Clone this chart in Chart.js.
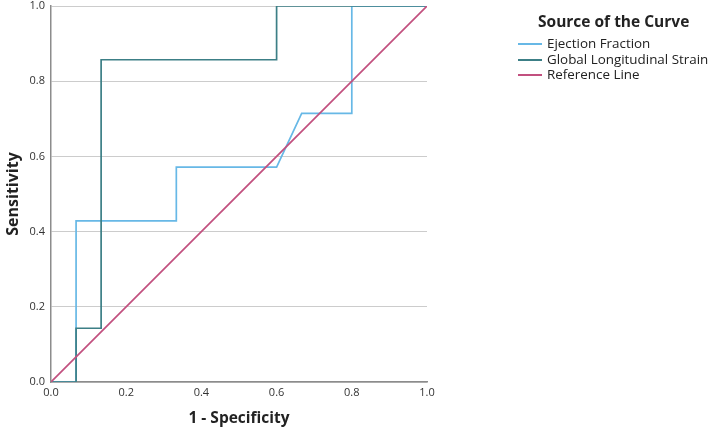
<html>
<head>
    <meta charset="utf-8"/>
    <script src="https://cdn.jsdelivr.net/npm/chart.js@4"></script>
    <style>
        body { margin: 0; background: #fff; font-family: "Open Sans", sans-serif; }
        .wrap { position: relative; width: 709px; height: 432px; }
        .legend { position: absolute; left: 518px; top: 10px; color: #222; }
        .legend .title { font-weight: bold; font-size: 15.5px; margin-left: 20px; margin-bottom: 4px; height: 22px; line-height: 22px; }
        .legend .item { font-size: 13.4px; height: 15.5px; line-height: 15.5px; white-space: nowrap; }
        .legend .swatch { display: inline-block; width: 24px; height: 2px; vertical-align: middle; margin-right: 5px; }
    </style>
</head>
<body>
<div class="wrap">
    <canvas id="roc" width="709" height="432"></canvas>
    <div class="legend" id="legend"></div>
</div>
<script>
    // ROC curves, x = 1 - specificity, y = sensitivity
    const efX = [0, 0.0667, 0.0667, 0.3333, 0.3333, 0.6, 0.6667, 0.8, 0.8, 1];
    const efY = [0, 0, 0.4286, 0.4286, 0.5714, 0.5714, 0.7143, 0.7143, 1, 1];
    const glsX = [0, 0.0667, 0.0667, 0.1333, 0.1333, 0.6, 0.6, 1];
    const glsY = [0, 0, 0.1429, 0.1429, 0.8571, 0.8571, 1, 1];
    const refX = [0, 1];
    const refY = [0, 1];
    const seriesNames = ["Ejection Fraction", "Global Longitudinal Strain", "Reference Line"];
    const seriesColors = ["#67b8e6", "#3c7f86", "#c2507f"];
    const tickValues = [0, 0.2, 0.4, 0.6, 0.8, 1.0];

    function pts(xs, ys) {
        return xs.map(function (x, i) { return {x: x, y: ys[i]}; });
    }

    const fontFam = "'Open Sans', sans-serif";

    const config = {
        type: 'scatter',
        data: {
            datasets: [
                {label: seriesNames[0], data: pts(efX, efY), borderColor: seriesColors[0], order: 2},
                {label: seriesNames[1], data: pts(glsX, glsY), borderColor: seriesColors[1], order: 1},
                {label: seriesNames[2], data: pts(refX, refY), borderColor: seriesColors[2], order: 0}
            ].map(function (d) {
                return Object.assign(d, {showLine: true, pointRadius: 0, borderWidth: 1.7, fill: false, tension: 0});
            })
        },
        options: {
            responsive: false,
            animation: false,
            layout: {padding: {top: 6, right: 282, left: 0, bottom: 0}},
            plugins: {legend: {display: false}, tooltip: {enabled: false}},
            scales: {
                x: {
                    type: 'linear', min: 0, max: 1,
                    afterBuildTicks: function (s) { s.ticks = tickValues.map(function (v) { return {value: v}; }); },
                    afterFit: function (s) { s.height = 50; s.paddingLeft = 0; s.paddingRight = 0; },
                    grid: {display: false, drawTicks: false},
                    border: {display: true, color: '#8c8c8c', width: 1.5},
                    ticks: {padding: 4, color: '#333', font: {family: fontFam, size: 11}, maxRotation: 0,
                        callback: function (v) { return v.toFixed(1); }},
                    title: {display: true, text: '1 - Specificity', color: '#222',
                        font: {family: fontFam, size: 15.5, weight: 'bold'}, padding: {top: 6}}
                },
                y: {
                    type: 'linear', min: 0, max: 1,
                    afterBuildTicks: function (s) { s.ticks = tickValues.map(function (v) { return {value: v}; }); },
                    afterFit: function (s) { s.width = 51; s.paddingTop = 0; s.paddingBottom = 0; },
                    grid: {display: true, drawTicks: false, color: '#cccccc', lineWidth: 1},
                    border: {display: true, color: '#8c8c8c', width: 1.5},
                    ticks: {padding: 6, color: '#333', font: {family: fontFam, size: 11},
                        callback: function (v) { return v.toFixed(1); }},
                    title: {display: true, text: 'Sensitivity', color: '#222',
                        font: {family: fontFam, size: 16, weight: 'bold'}, padding: {bottom: 3}}
                }
            }
        }
    };

    const rocChart = new Chart(document.getElementById('roc'), config);

    // legend as html
    var lg = document.getElementById('legend');
    var html = '<div class="title">Source of the Curve</div>';
    for (var i = 0; i < seriesNames.length; i++) {
        html += '<div class="item"><span class="swatch" style="background:' + seriesColors[i] + '"></span>' + seriesNames[i] + '</div>';
    }
    lg.innerHTML = html;
</script>
</body>
</html>
